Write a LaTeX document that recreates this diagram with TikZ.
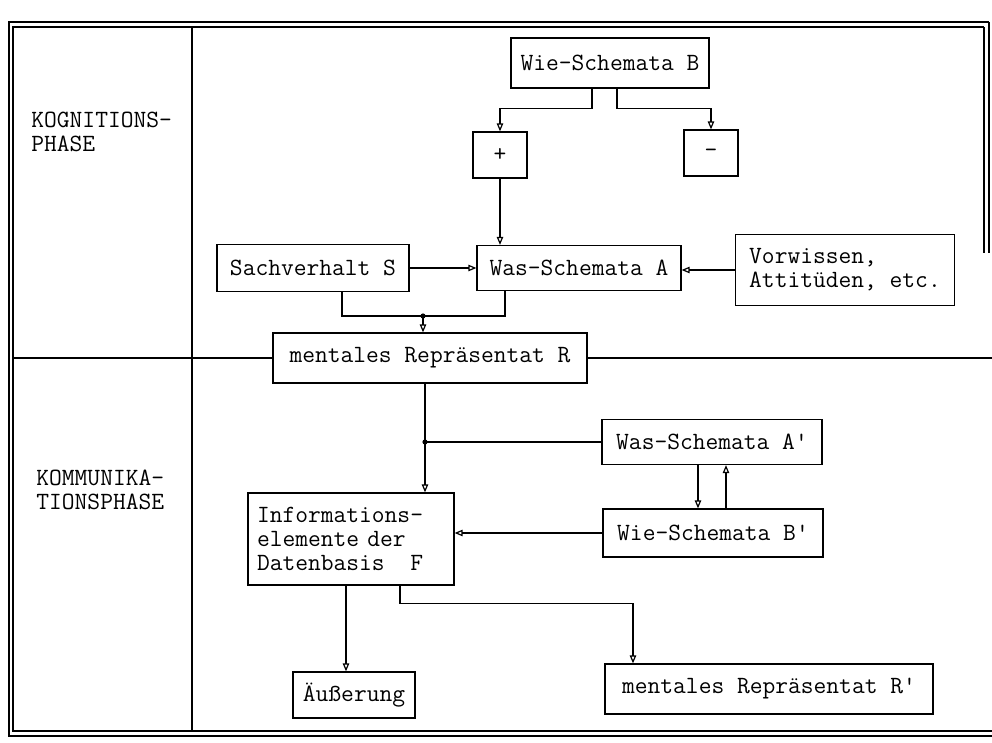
\documentclass[tikz,border=0pt]{standalone}
\usepackage{fontspec}
\usetikzlibrary{arrows.meta}

\tikzset{
  linie/.style={line width=0.6pt},
  pfeil/.style={line width=0.6pt, -{Triangle[open, length=4pt, width=3.2pt]}},
  kasten/.style={draw, line width=0.6pt, inner sep=0pt,
    font=\ttfamily\fontsize{12.4}{12}\selectfont},
  phase/.style={anchor=west, align=left, inner sep=0pt,
    font=\ttfamily\fontsize{12.4}{12}\selectfont}
}

\begin{document}
\begin{tikzpicture}[x=0.5pt, y=-0.5pt]
  \useasboundingbox (0,0) rectangle (992,743);

  % Rahmen (doppelt)
  \draw[linie] (989,22) -- (9,22) -- (9,736) -- (992,736);
  \draw[linie] (984,27) -- (13,27) -- (13,731) -- (992,731);
  \draw[linie] (989,22) -- (989,253);
  \draw[linie] (984,27) -- (984,253);

  % Spalte fuer die Phasen
  \draw[linie] (192,27) -- (192,731);
  \node[phase] (kog) at (31,132) {KOGNITIONS-\\PHASE};
  \node[phase] (kom) at (36,490) {KOMMUNIKA-\\TIONSPHASE};

  % Kognitionsphase
  \node[kasten, minimum width=99pt, minimum height=25pt] (wieB) at (610,63) {Wie-Schemata B};
  \node[kasten, minimum width=27pt, minimum height=23pt] (plus) at (500,155) {+};
  \node[kasten, minimum width=27pt, minimum height=23pt] (minus) at (711,153) {-};
  \node[kasten, minimum width=102pt, minimum height=22.5pt] (wasA) at (579,268) {Was-Schemata A};
  \node[kasten, minimum width=96pt, minimum height=23.5pt] (sachS) at (313,268) {Sachverhalt S};
  \node[kasten, align=left, minimum width=109.5pt, minimum height=35.5pt] (vorw) at (845,270) {Vorwissen,\\Attitüden, etc.};
  \node[kasten, minimum width=157pt, minimum height=25pt] (repR) at (430,358) {mentales Repräsentat R};

  % Kommunikationsphase
  \node[kasten, minimum width=110pt, minimum height=22.5pt] (wasA2) at (712,442) {Was-Schemata A'};
  \node[kasten, minimum width=110pt, minimum height=24pt] (wieB2) at (713,533) {Wie-Schemata B'};
  \node[kasten, align=left, text width=94pt, inner xsep=4.5pt, minimum height=46pt] (info) at (351,539) {Informations-\\elemente der\\Datenbasis\phantom{xx}F};
  \node[kasten, minimum width=61pt, minimum height=23pt] (aeus) at (354,695) {Äußerung};
  \node[kasten, minimum width=164pt, minimum height=25pt] (repR2) at (769,689) {mentales Repräsentat R'};

  % Trennlinie zwischen den Phasen
  \draw[linie] (13,358) -- (repR.west);
  \draw[linie] (repR.east) -- (992,358);

  % Pfeile oben
  \draw[pfeil] ([xshift=-9pt]wieB.south) -- ++(0,20) -| (plus.north);
  \draw[pfeil] ([xshift=3.5pt]wieB.south) -- ++(0,20) -| (minus.north);
  \draw[pfeil] (plus.south) -- (plus.south |- wasA.north);
  \draw[pfeil] (sachS.east) -- (wasA.west);
  \draw[pfeil] (vorw.west) -- (vorw.west -| wasA.east);

  % Zusammenfuehrung zu R
  \coordinate (knotenS) at (423,316);
  \draw[linie] ([xshift=14.5pt]sachS.south) |- (knotenS) -| ([xshift=-37pt]wasA.south);
  \fill (knotenS) circle (1.3pt);
  \draw[pfeil] (knotenS) -- (knotenS |- repR.north);

  % von R zur Datenbasis
  \coordinate (knotenR) at ([xshift=-2.5pt]repR.south |- wasA2.west);
  \draw[linie] ([xshift=-2.5pt]repR.south) -- (knotenR) -- (wasA2.west);
  \fill (knotenR) circle (1.3pt);
  \draw[pfeil] (knotenR) -- (knotenR |- info.north);

  % Schemata A' und B'
  \draw[pfeil] ([xshift=-7pt]wasA2.south) -- ([xshift=-7pt]wasA2.south |- wieB2.north);
  \draw[pfeil] ([xshift=6.5pt]wieB2.north) -- ([xshift=6.5pt]wieB2.north |- wasA2.south);
  \draw[pfeil] (wieB2.west) -- (wieB2.west -| info.east);

  % Ausgaenge
  \draw[pfeil] ([xshift=-2.5pt]info.south) -- ([xshift=-2.5pt]info.south |- aeus.north);
  \draw[pfeil] ([xshift=24.5pt]info.south) -- ++(0,18) -| ([xshift=-68pt]repR2.north);

\end{tikzpicture}
\end{document}
